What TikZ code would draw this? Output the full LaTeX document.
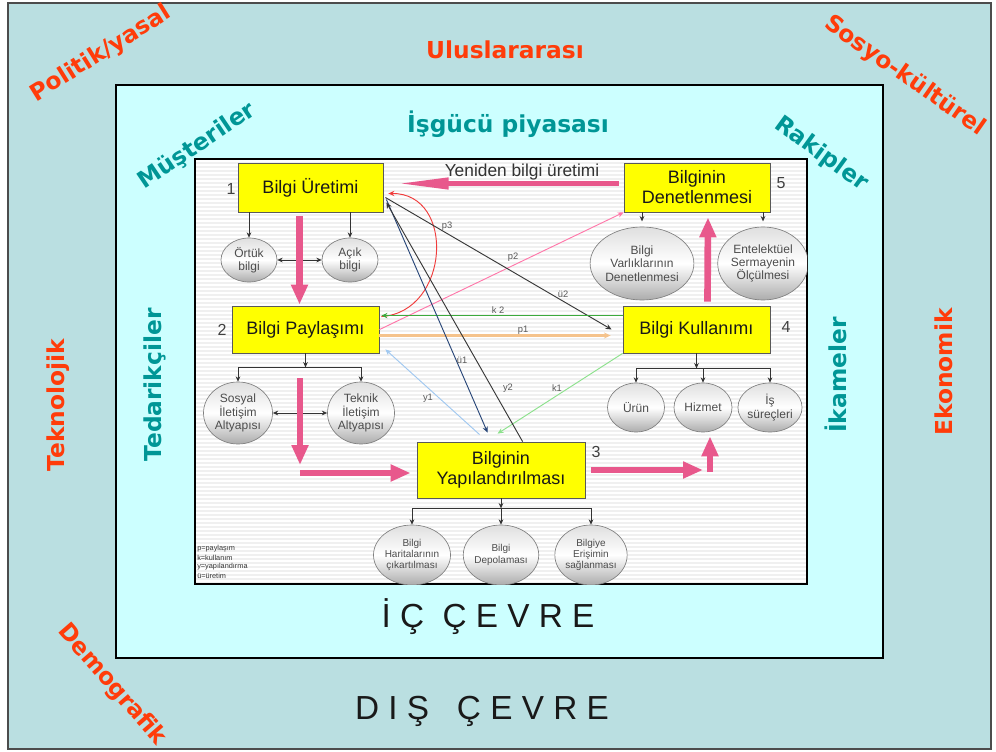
\documentclass[tikz,border=0pt]{standalone}
\usepackage{fontspec}
\setmainfont{Liberation Sans}
\newfontfamily\heavysans{DejaVu Sans}
\usetikzlibrary{shapes.geometric,arrows.meta,calc}

\definecolor{outerbg}{RGB}{186,223,225}
\definecolor{innerbg}{RGB}{204,255,255}
\definecolor{panelbg}{RGB}{240,240,240}
\definecolor{envred}{RGB}{255,60,10}
\definecolor{envteal}{RGB}{0,150,150}
\definecolor{boxyellow}{RGB}{255,255,0}
\definecolor{flowpink}{RGB}{232,88,140}
\definecolor{lnred}{RGB}{240,60,60}
\definecolor{lnpink}{RGB}{255,120,170}
\definecolor{lngreen}{RGB}{60,170,60}
\definecolor{lnorange}{RGB}{245,195,140}
\definecolor{lnblue}{RGB}{160,200,240}
\definecolor{lnlgreen}{RGB}{140,225,140}
\definecolor{lnnavy}{RGB}{40,70,120}
\definecolor{lndark}{RGB}{55,55,55}

\tikzset{
  sz/.style 2 args={minimum width=#1*0.75pt, minimum height=#2*0.75pt},
  kbox/.style={draw=black!65, fill=boxyellow, line width=0.6pt, inner sep=0pt,
    align=center, text=black!90, font=\fontsize{13.5}{15}\selectfont},
  kell/.style={ellipse, draw=black!50, line width=0.5pt, inner sep=0pt, align=center,
    top color=gray!25, bottom color=gray!65, middle color=white, text=black!70,
    font=\fontsize{9}{10}\selectfont},
  kellsmall/.style={kell, font=\fontsize{7.5}{8.5}\selectfont},
  numlbl/.style={text=black!75, font=\fontsize{12}{14}\selectfont},
  linklbl/.style={text=black!65, font=\fontsize{7}{8}\selectfont, inner sep=1pt},
  legendtxt/.style={anchor=west, text=black!80, font=\fontsize{5.5}{6}\selectfont, inner sep=0pt},
  envout/.style={text=envred, font=\heavysans\bfseries\fontsize{17.5}{20}\selectfont},
  envin/.style={text=envteal, font=\heavysans\bfseries\fontsize{17.5}{20}\selectfont},
  tip/.style={-{Stealth[length=4pt,width=3.5pt]}},
  treearr/.style={draw=black!80, line width=0.6pt, tip},
  bothtip/.style={draw=black!80, line width=0.6pt,
    {Stealth[length=4pt,width=3.5pt]}-{Stealth[length=4pt,width=3.5pt]}},
  pinkarr/.style={draw=flowpink, line width=5pt, -{Triangle[length=15pt,width=12pt]}},
  pinklong/.style={draw=flowpink, line width=4pt, -{Triangle[length=40pt,width=8pt]}},
  link/.style={line width=0.7pt, -{Stealth[length=4.5pt,width=4pt]}},
}

\begin{document}
\begin{tikzpicture}[x=0.75pt,y=-0.75pt]
\useasboundingbox (0,0) rectangle (996,752);
\fill[white] (0,0) rectangle (996,752);

% environment frames
\draw[draw=black!70, line width=1.2pt, fill=outerbg] (8,3) rectangle (991,749);
\draw[black, line width=0.8pt, fill=innerbg] (116,85) rectangle (883,658);
\fill[panelbg] (195,159) rectangle (807,584);
\foreach \yy in {161,165,...,583}
  \draw[white, line width=1.1pt] (196,\yy) -- (806,\yy);
\draw[black, line width=0.8pt] (195,159) rectangle (807,584);

% external environment factors
\node[envout] (uluslar) at (505,50) {Uluslararası};
\node[envout, rotate=32] (politik) at (101,54) {Politik/yasal};
\node[envout, rotate=-35] (sosyo) at (905,76) {Sosyo-kültürel};
\node[envout, rotate=-49] (demog) at (112,685) {Demografik};
\node[envout, rotate=90] (teknol) at (58,405) {Teknolojik};
\node[envout, rotate=90] (ekonom) at (944,372) {Ekonomik};

% internal environment factors
\node[envin] (isgucu) at (508,124) {İşgücü piyasası};
\node[envin, rotate=34] (muster) at (197,146) {Müşteriler};
\node[envin, rotate=-36] (rakip) at (821,154) {Rakipler};
\node[envin, rotate=90] (tedarik) at (155,385) {Tedarikçiler};
\node[envin, rotate=90] (ikame) at (836,375) {İkameler};

\node[font=\fontsize{25}{28}\selectfont, text=black!90] (iccevre) at (488,617) {İ\ Ç\ \ Ç\ E\ V\ R\ E};
\node[font=\fontsize{25}{28}\selectfont, text=black!90] (discevre) at (482,711) {D\ I\ Ş\ \ \ Ç\ E\ V\ R\ E};

\begin{scope}
\clip (195,159) rectangle (807,584);

% process steps
\node[kbox, sz={145}{49}] (b1) at (310.5,187.5) {Bilgi Üretimi};
\node[kbox, sz={147}{47}] (b2) at (305.5,329.5) {Bilgi Paylaşımı};
\node[kbox, sz={168}{56}] (b3) at (501,470) {Bilginin\\Yapılandırılması};
\node[kbox, sz={147}{47}] (b4) at (696.5,329.5) {Bilgi Kullanımı};
\node[kbox, sz={146}{49}] (b5) at (697,187.5) {Bilginin\\Denetlenmesi};

\node[numlbl] (n1) at (231,189) {1};
\node[numlbl] (n2) at (222,330) {2};
\node[numlbl] (n3) at (596,452) {3};
\node[numlbl] (n4) at (786,327) {4};
\node[numlbl] (n5) at (781,183) {5};

% sub-activities
\node[kell, sz={56}{44}] (e11) at (249,260) {Örtük\\bilgi};
\node[kell, sz={56}{44}] (e12) at (350,260) {Açık\\bilgi};
\node[kell, sz={69}{62}] (e21) at (238,413) {Sosyal\\İletişim\\Altyapısı};
\node[kell, sz={67}{62}] (e22) at (361,413) {Teknik\\İletişim\\Altyapısı};
\node[kellsmall, sz={66}{60}] (e31) at (412,555) {Bilgi\\Haritalarının\\çıkartılması};
\node[kellsmall, sz={68}{60}] (e32) at (501,555) {Bilgi\\Depolaması};
\node[kellsmall, sz={68}{60}] (e33) at (591,555) {Bilgiye\\Erişimin\\sağlanması};
\node[kell, sz={57}{49}] (e41) at (636,407.5) {Ürün};
\node[kell, sz={58}{49}] (e42) at (703,407.5) {Hizmet};
\node[kell, sz={57}{49}] (e43) at (770,407.5) {İş\\süreçleri};
\node[kell, sz={81}{73}] (e51) at (642,263.5) {Bilgi\\Varlıklarının\\Denetlenmesi};
\node[kell, sz={88}{73}] (e52) at (763,263.5) {Entelektüel\\Sermayenin\\Ölçülmesi};

% trees
\draw[treearr] (b1.south -| e11.north) -- (e11.north);
\draw[treearr] (b1.south -| e12.north) -- (e12.north);
\draw[bothtip] (e11.east) -- (e12.west);

\draw[treearr] (b2.south) -- ++(0,14) coordinate (t2);
\draw[treearr] (t2) -| (e21.north);
\draw[treearr] (t2) -| (e22.north);
\draw[bothtip] (e21.east) -- (e22.west);

\draw[treearr] (b3.south) -- ++(0,10) coordinate (t3);
\draw[treearr] (t3) -| (e31.north);
\draw[treearr] (t3) -| (e32.north);
\draw[treearr] (t3) -| (e33.north);

\draw[treearr] (b4.south) -- ++(0,15) coordinate (t4);
\draw[treearr] (t4) -| (e41.north);
\draw[treearr] (t4) -| (e42.north);
\draw[treearr] (t4) -| (e43.north);

\draw[treearr] (b5.south -| e51.north) -- ++(0,9);
\draw[treearr] (b5.south -| e52.north) -- ++(0,9);

% thin flows between steps
\draw[link, draw=lnred] ($(b2.north east)+(2,11)$)
  .. controls (450,312) and (456,193) .. ($(b1.east)+(5,6)$);
\draw[link, draw=lnpink] ($(b2.north east)+(0,24)$) -- (b5.south west);
\draw[link, draw=lndark] ($(b1.east)+(2,10)$) -- ($(b4.west)+(-11,0)$);
\draw[link, draw=lngreen, line width=1.1pt] ($(b4.north west)+(0,10)$) -- ($(b2.north east)+(2,10)$);
\draw[draw=lnorange, line width=1.6pt, -{Stealth[length=5pt,width=4.5pt]}] ($(b2.east)+(0,6)$) -- ($(b4.west)+(-12,6)$);
\draw[link, draw=lnblue] ($(b3.north west)+(63,-7)$) -- ($(b2.south east)+(6,-4)$);
\draw[link, draw=lnlgreen] (b4.south west) -- ($(b3.north west)+(81,-8)$);
\draw[link, draw=lnnavy] ($(b1.east)+(3,12)$) -- ($(b3.north west)+(71,-9)$);
\draw[link, draw=lndark] ($(b3.north west)+(106,0)$) -- ($(b1.east)+(3,15)$);

\node[linklbl] (lp3) at (447,226) {p3};
\node[linklbl] (lp2) at (513,257) {p2};
\node[linklbl] (lu2) at (563,294) {ü2};
\node[linklbl] (lk2) at (498,310) {k 2};
\node[linklbl] (lp1) at (523,330) {p1};
\node[linklbl] (lu1) at (462,360) {ü1};
\node[linklbl] (ly1) at (428,398) {y1};
\node[linklbl] (ly2) at (508,388) {y2};
\node[linklbl] (lk1) at (557,388) {k1};

% main flow arrows
\coordinate (s2a) at (300,378);
\coordinate (s2b) at (300,465);
\coordinate (s3a) at (300,473);
\coordinate (s4b) at (703,470);
\coordinate (s5a) at (710,472);
\draw[pinkarr] ($(b1.south)+(-11,4)$) -- ($(b2.north)+(-6,-1)$);
\draw[pinkarr] (s2a) -- (s2b);
\draw[pinkarr] (s3a) -- ($(b3.west)+(-6,3)$);
\draw[pinkarr] ($(b3.east)+(6,0)$) -- (s4b);
\draw[pinkarr] (s5a) -- ($(e42.south)+(7,4)$);
\draw[pinkarr] ($(b4.north)+(11,-4)$) -- ($(b5.south)+(11,5)$);
\draw[pinklong] ($(b5.west)+(-5,-4)$) -- ($(b1.east)+(12,-4)$);
\node[font=\fontsize{13}{15}\selectfont, text=black!80] (yeniden) at (522,172) {Yeniden bilgi üretimi};

% legend
\node[legendtxt] (lg1) at (197,549) {p=paylaşım};
\node[legendtxt] (lg2) at (197,558) {k=kullanım};
\node[legendtxt] (lg3) at (197,567) {y=yapılandırma};
\node[legendtxt] (lg4) at (197,576) {ü=üretim};
\end{scope}
\end{tikzpicture}
\end{document}
